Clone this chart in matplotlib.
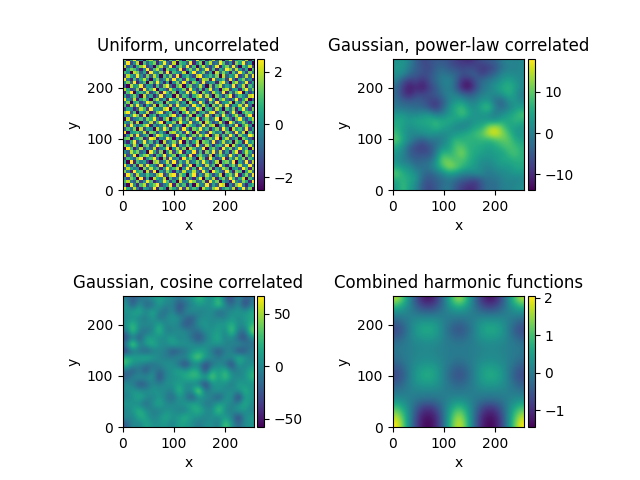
import matplotlib
matplotlib.use('Agg')
import matplotlib.pyplot as plt
import numpy as np

# all grids are listed top row first, uniform values are in half units
uniform_rows = [
    [3,-4,1,5,-2,0,-5,2,4,-1,-3,5,1,-4,2,-2,4,0,-5,3,1,-3,5,-1,2,-4,0,4,-2,3,-5,1,5,-3,0,2,-1,4,-4,1],
    [-1,5,-3,0,4,-5,2,-2,1,3,-4,0,5,-1,-3,4,-5,2,1,-2,5,-4,0,3,-5,1,4,-2,-1,5,2,-3,0,-4,3,1,5,-2,0,-5],
    [4,-2,0,-4,1,3,5,-3,-1,-5,2,4,-2,0,5,-4,1,3,-1,5,-3,2,-5,1,4,-1,-3,0,5,-4,1,3,-2,5,-1,-5,2,0,4,-3],
    [-5,1,3,2,-1,-4,0,5,-3,2,4,-1,-5,3,0,1,-2,5,-4,0,3,-1,4,-2,0,5,-3,2,-4,1,-1,5,3,-2,4,0,-3,1,-5,2],
    [2,0,-5,4,3,-2,1,-4,5,0,-1,3,-3,5,-4,2,0,-1,4,-5,1,5,-2,0,3,-3,1,-5,4,-1,3,0,-4,2,-2,5,1,-3,3,-1],
    [-3,4,1,-1,5,0,-3,3,-2,4,1,-5,2,-1,3,-3,5,-4,0,2,-1,-3,4,5,-2,0,2,-1,3,-5,4,-2,1,0,5,-3,-1,4,-2,5],
    [5,-1,-4,2,-3,1,4,0,-5,1,3,-2,0,4,-2,5,-1,2,-3,4,0,1,-5,-2,4,3,-4,5,-1,0,2,-3,5,-1,-4,1,3,-2,0,-4],
    [0,3,-2,5,-4,-1,2,-5,3,-1,5,0,-4,1,-5,0,3,-2,5,-1,-4,3,1,-3,5,-2,0,1,-4,3,5,-1,-5,2,4,-2,0,5,-3,1],
    [-2,-5,4,0,1,5,-3,1,0,-4,2,-3,3,5,-1,-4,2,4,-5,1,3,-2,0,4,-1,-5,3,-3,2,4,-2,1,-1,5,-3,0,4,-4,2,-1],
    [4,1,-3,-2,3,-4,5,-1,2,5,-5,1,-1,-3,4,1,-2,0,3,-4,5,0,-3,2,-4,1,5,-2,0,-5,3,4,-3,0,1,-4,2,5,-1,3],
    [-4,2,5,-5,0,2,-1,4,-3,0,3,-4,5,2,-2,3,-5,1,-1,5,-2,4,-1,-5,3,0,-3,4,1,-2,5,-4,2,-2,3,5,-5,1,-3,0],
    [1,-3,0,3,-1,-5,4,-2,1,-4,-1,5,-3,0,1,-5,4,-3,2,0,-4,1,3,5,-2,4,-1,-5,3,0,-3,2,5,-4,-1,2,0,-2,4,5],
    [5,0,-2,4,-4,1,3,0,-5,2,4,-2,1,-4,5,2,-1,5,-4,3,1,-5,2,-1,0,-3,5,1,-4,2,4,-1,-3,0,5,-3,1,4,-5,-2],
    [-1,3,-5,1,2,-3,-1,5,3,-3,0,2,-5,3,-1,0,3,-2,1,-5,4,0,-3,5,1,-4,2,-2,5,-3,0,1,4,-5,2,-1,3,-4,0,2],
    [2,-4,4,-1,5,0,-4,1,-2,4,-5,3,0,-2,4,-3,5,0,-1,2,-3,5,1,-2,4,0,-5,3,-1,4,-2,5,-3,1,0,4,-2,5,-1,-5],
    [-3,1,0,-4,-2,4,2,-3,5,0,1,-1,4,5,-5,1,-2,3,4,-4,0,-1,5,3,-5,2,1,-3,4,0,-5,2,-1,3,-4,1,5,0,-3,3],
    [3,5,-2,2,-5,1,-1,4,-4,-2,3,5,-3,0,2,-4,0,-5,2,5,-1,3,-4,0,2,-2,4,5,-3,1,3,-4,0,5,-2,-5,1,3,2,-1],
    [0,-2,1,5,3,-3,5,-5,0,2,-4,0,1,-1,3,5,-3,1,-4,0,4,-5,2,1,-3,5,-1,-4,2,-2,5,0,-3,1,4,-1,-4,2,5,-4],
    [-5,4,-3,-1,0,2,-2,3,1,5,-1,-4,2,4,-5,-1,2,4,-2,3,-3,1,5,-4,0,3,-2,0,5,-5,1,3,-1,-4,2,5,0,-3,1,4],
    [1,-1,3,-4,4,-5,0,-1,4,-3,2,5,-5,1,0,3,-4,5,1,-1,5,-2,0,3,-5,4,1,-3,-1,4,-2,-5,5,2,-3,0,3,-1,-4,2],
    [4,-3,5,0,-2,1,3,5,-4,1,-2,0,3,-3,5,-2,1,-1,-5,4,2,0,-3,-1,5,-2,3,4,-5,0,2,-3,1,-2,5,-4,1,4,0,-5],
    [-2,2,-1,3,-5,4,-3,1,0,-5,4,-1,5,2,-4,0,3,-3,5,0,-4,3,1,5,-1,2,-4,0,3,-3,5,1,-5,4,0,2,-2,5,-3,1],
    [5,-5,0,1,2,-1,4,-4,3,2,-3,1,-2,-5,3,4,-1,2,-3,5,1,-5,4,-2,0,-3,5,2,-1,1,-4,3,0,-3,5,-1,4,-5,2,-2],
    [-4,0,4,-3,5,-2,0,2,-5,-1,5,3,0,1,-3,-4,5,0,2,-4,-1,3,-2,4,1,5,-5,-1,4,-3,2,-2,5,1,-4,3,0,-1,5,3],
    [2,3,-5,-1,1,3,-4,-2,5,4,-4,0,-1,5,2,-5,1,-3,4,0,5,-3,0,1,-4,-1,3,0,5,-5,1,4,-3,-1,2,-5,3,1,-2,-4],
    [-1,-4,1,5,-3,0,5,-1,2,-3,1,-5,4,-2,0,3,-2,5,-5,2,-3,1,4,-5,3,2,-2,5,-3,0,4,-1,2,-5,3,1,-4,5,0,2],
    [3,1,-2,4,0,-5,2,3,-3,0,5,2,-4,3,-1,5,-4,1,-1,3,0,-4,5,-1,-3,4,0,-4,1,2,-2,5,-5,4,0,-2,1,-3,4,-1],
    [-5,5,2,-4,-1,4,-3,1,-2,4,-4,-1,1,5,-5,0,4,-2,3,-5,4,2,-2,0,5,-5,1,3,-1,-4,5,0,3,-3,1,5,-1,2,-5,4],
    [0,-2,4,1,3,-2,0,-5,5,1,-3,3,-5,0,4,-3,2,5,-4,1,-1,5,-3,2,-4,3,-1,5,-2,4,-3,1,-4,2,5,-4,0,4,1,-3],
    [4,-3,-1,5,-5,1,3,4,-1,-4,2,0,5,-2,1,3,-5,0,2,-3,5,-4,1,3,0,-2,4,-5,0,3,1,-2,5,0,-3,2,-5,3,-1,5],
    [-3,2,0,-2,3,5,-4,0,2,5,-1,-5,3,-3,5,-1,1,-4,5,0,3,-1,-5,4,2,-4,5,1,-3,-1,5,-4,2,-1,4,0,3,-4,2,0],
    [1,-5,5,-4,2,-1,1,-3,-5,3,4,-2,0,4,-2,5,-3,2,-1,4,-2,0,3,-1,5,1,-3,0,4,-5,2,3,-1,5,-5,1,-2,5,-3,4],
    [5,0,-3,2,-4,4,-2,5,1,-1,-3,5,-4,1,3,-5,0,4,-3,1,5,-5,2,0,-3,4,-1,2,-5,5,0,-4,1,3,-2,4,-1,0,5,-2],
    [-2,4,1,-1,0,-5,3,-1,4,0,2,-4,1,5,-1,2,4,-5,0,5,-3,2,-4,5,1,-2,3,-4,1,-2,4,2,-5,0,1,-3,5,2,-4,3],
    [3,-1,-4,5,1,2,-5,4,-3,5,-5,1,-2,3,0,-4,1,-2,4,-1,0,4,-1,-3,5,0,-5,5,2,-1,-3,5,0,-4,3,2,-5,1,4,-1],
    [-4,5,2,-3,4,0,-1,2,0,-2,3,5,-3,-1,4,5,-3,3,1,-5,2,5,-3,1,-2,4,1,-3,0,4,-5,1,3,-1,5,-4,0,3,-2,5],
    [0,-3,3,1,-5,5,-4,1,-5,4,1,-1,4,-5,2,-2,0,5,-4,3,-1,-4,1,5,-5,2,-1,4,-4,1,3,-2,5,2,-3,1,4,-5,2,-1],
    [2,4,-1,-2,3,-3,0,5,2,-4,-2,0,5,2,-3,1,-5,4,-1,0,5,3,-2,-1,3,-4,5,0,3,-5,1,-1,-4,5,0,-2,3,1,-4,5],
    [-1,-5,5,0,-4,2,4,-3,1,3,5,-3,-1,1,5,-4,3,-1,2,-4,1,-5,4,0,-1,5,-3,1,-2,5,4,-5,0,-3,3,5,-1,-4,0,2],
    [5,1,-2,4,-1,-4,1,0,-2,5,-4,2,0,-5,3,1,-2,5,-3,4,-1,2,0,-5,4,1,-2,3,5,-3,0,2,-1,4,-4,0,5,-2,3,-5],
]

power_law_rows = [
    [2,3,0,-4,-7,-6,-5,-5,-6,-8,-9,-10,-8,-6,-5,-4,-1,1,0,1],
    [3,3,-1,-4,-6,-7,-4,-3,-5,-6,-7,-6,-7,-9,-8,-6,-2,0,0,1],
    [2,1,-3,-5,-6,-6,-3,-1,-2,-3,-6,-5,-4,-8,-5,-3,1,2,1,1],
    [0,-6,-9,-7,-10,-6,-3,0,1,-3,-10,-11,-6,-2,-1,1,3,5,3,1],
    [-3,-8,-12,-10,-12,-8,-5,-1,0,-4,-11,-13,-7,-2,0,3,5,7,4,1],
    [-3,-8,-11,-7,-7,-6,-5,-2,1,0,-3,-5,-3,0,1,1,3,6,3,-1],
    [-2,-4,-5,-4,-5,-7,-8,-5,0,3,3,0,0,3,3,-2,-4,2,3,1],
    [-1,-2,-2,-3,-3,-6,-9,-4,2,6,8,3,2,6,9,0,-3,0,3,4],
    [3,3,1,1,2,3,-1,0,3,5,9,5,2,3,2,-1,2,4,6,9],
    [5,5,3,5,5,6,7,5,6,4,3,1,3,3,3,3,5,5,7,6],
    [6,4,2,3,4,4,7,5,3,1,0,2,5,6,13,15,11,5,4,3],
    [8,4,1,1,2,3,2,1,2,3,5,6,8,10,15,17,13,9,3,3],
    [10,5,1,-3,-5,-2,-2,0,3,8,6,7,6,7,6,8,10,10,6,4],
    [5,2,-4,-7,-8,-6,-2,2,4,9,10,6,6,5,4,5,7,9,8,6],
    [3,1,-4,-6,-6,-6,-1,8,6,9,12,7,5,4,3,4,4,7,9,6],
    [2,0,-2,-4,-3,-3,2,11,11,8,9,6,4,2,2,3,5,5,6,6],
    [5,3,2,-2,-2,-1,3,8,13,11,7,5,3,1,0,2,3,3,5,5],
    [10,6,4,2,-2,-4,-2,1,4,3,1,0,2,1,-1,0,1,2,3,3],
    [5,7,5,3,-4,-6,-4,-3,-1,-3,-5,-6,-8,-4,-2,-2,0,1,0,1],
    [3,8,4,1,-5,-7,-5,-2,-1,-5,-8,-10,-9,-5,-2,-3,0,0,1,2],
]

cosine_rows = [
    [-5,-25,-10,-5,5,15,5,0,-10,0,5,30,10,0,30,-20,-30,5,-25,-10],
    [10,-30,10,-20,-15,15,-5,0,-30,-15,0,10,5,5,40,0,-20,5,-38,-5],
    [5,15,20,0,20,-5,-15,5,-30,0,5,-5,0,5,-22,-5,5,10,5,20],
    [0,5,0,-10,15,-15,0,10,5,-15,-25,0,5,0,0,-5,10,0,10,15],
    [5,30,0,5,-5,22,-5,5,-5,-28,-15,5,10,0,10,10,25,0,5,25],
    [-10,38,-5,-15,0,30,-5,-5,5,0,-10,-15,5,5,15,-5,42,-10,-15,48],
    [-35,-5,-30,15,10,0,5,15,-5,5,-15,-30,-10,10,20,-5,5,-20,-32,5],
    [-5,60,-5,10,25,5,0,15,10,5,5,-5,5,5,10,0,-5,5,-5,-15],
    [-40,-10,-10,-25,-10,0,-5,-30,-20,-10,5,15,10,-10,-30,-5,0,-35,-25,0],
    [25,15,15,25,15,0,-5,-5,5,0,25,45,10,5,-10,5,0,28,10,-5],
    [32,5,0,-10,-15,0,5,5,-15,-40,-5,-5,-35,-15,5,-10,-40,15,-5,5],
    [-15,-25,-5,-30,5,-20,0,5,20,10,25,20,-38,25,5,30,-5,-5,5,20],
    [-22,0,5,5,10,-35,0,5,5,20,25,25,15,45,5,35,5,0,5,25],
    [5,-5,-30,-20,0,-5,5,5,15,0,0,-10,-45,5,5,5,-10,15,5,5],
    [0,10,5,0,10,5,0,-5,30,0,5,65,-15,5,10,0,5,5,25,5],
    [-5,5,20,5,-5,10,-5,-20,10,-5,-35,5,5,-5,-30,5,10,-50,15,5],
    [10,5,0,-18,5,20,0,0,5,10,20,10,-10,-5,15,10,-5,0,25,0],
    [-5,10,25,5,-5,-5,5,5,-5,-5,15,25,5,0,40,0,-5,15,5,-5],
    [5,-5,22,15,-5,5,20,5,10,25,5,5,-5,5,0,10,0,-42,5,10],
    [-25,5,-5,18,5,5,10,-5,15,10,5,-10,5,5,-10,40,5,-20,5,5],
]

harmonic_rows = [
    [1.7,0.9,-0.2,-1.0,-1.35,-1.0,-0.2,0.9,1.7,0.9,-0.2,-1.0,-1.35,-1.0,-0.2,0.9,1.7],
    [0.8,0.45,-0.1,-0.6,-0.8,-0.6,-0.1,0.45,0.8,0.45,-0.1,-0.6,-0.8,-0.6,-0.1,0.45,0.8],
    [0.1,0.1,0.05,-0.05,-0.1,-0.05,0.0,0.1,0.1,0.1,0.0,-0.05,-0.1,-0.05,0.05,0.1,0.1],
    [-0.4,-0.15,0.2,0.4,0.45,0.4,0.1,-0.15,-0.3,-0.15,0.1,0.4,0.45,0.4,0.2,-0.15,-0.4],
    [-0.7,-0.35,0.25,0.6,0.7,0.55,0.1,-0.35,-0.6,-0.35,0.1,0.55,0.7,0.6,0.25,-0.35,-0.7],
    [-0.4,-0.15,0.2,0.4,0.45,0.4,0.1,-0.15,-0.3,-0.15,0.1,0.4,0.45,0.4,0.2,-0.15,-0.4],
    [-0.1,0.0,0.1,0.15,0.2,0.15,0.05,0.0,-0.05,0.0,0.05,0.15,0.2,0.15,0.1,0.0,-0.1],
    [-0.1,0.0,0.1,0.2,0.2,0.15,0.05,0.0,0.0,0.0,0.05,0.15,0.2,0.2,0.1,0.0,-0.1],
    [-0.25,-0.05,0.15,0.25,0.3,0.25,0.1,-0.05,-0.15,-0.05,0.1,0.25,0.3,0.25,0.15,-0.05,-0.25],
    [-0.55,-0.25,0.2,0.5,0.6,0.5,0.1,-0.25,-0.5,-0.25,0.1,0.5,0.6,0.5,0.2,-0.25,-0.55],
    [-0.7,-0.35,0.25,0.6,0.7,0.55,0.1,-0.35,-0.6,-0.35,0.1,0.55,0.7,0.6,0.25,-0.35,-0.7],
    [-0.4,-0.15,0.2,0.4,0.45,0.4,0.1,-0.15,-0.3,-0.15,0.1,0.4,0.45,0.4,0.2,-0.15,-0.4],
    [-0.1,0.0,0.1,0.1,0.1,0.1,0.05,0.0,-0.05,0.0,0.05,0.1,0.1,0.1,0.1,0.0,-0.1],
    [0.3,0.2,0.0,-0.15,-0.2,-0.15,0.0,0.2,0.3,0.2,0.0,-0.15,-0.2,-0.15,0.0,0.2,0.3],
    [1.0,0.55,-0.1,-0.7,-0.95,-0.7,-0.1,0.55,1.0,0.55,-0.1,-0.7,-0.95,-0.7,-0.1,0.55,1.0],
    [1.6,0.85,-0.2,-1.05,-1.3,-1.05,-0.2,0.85,1.6,0.85,-0.2,-1.05,-1.3,-1.05,-0.2,0.85,1.6],
    [2.05,1.05,-0.3,-1.15,-1.45,-1.15,-0.3,1.05,1.9,1.05,-0.3,-1.15,-1.45,-1.15,-0.3,1.05,2.05],
]

titles = ['Uniform, uncorrelated', 'Gaussian, power-law correlated',
          'Gaussian, cosine correlated', 'Combined harmonic functions']
fields = [np.array(uniform_rows) / 2, power_law_rows, cosine_rows, harmonic_rows]
ranges = [(-2.5, 2.48), (-13.8, 17.9), (-58, 66.8), (-1.45, 2.05)]
interp = ['nearest', 'bicubic', 'bicubic', 'bicubic']
cbar_ticks = [[-2, 0, 2], [-10, 0, 10], [-50, 0, 50], [-1, 0, 1, 2]]

# pixel boxes: left, top of each image, left and width of its colorbar
boxes = [(122.7, 59, 257.3, 7), (392.7, 59, 528.3, 6.2),
         (122.7, 296, 257.3, 7), (392.7, 296, 528.3, 6.2)]
W, H = 640, 480
side = 131.2

fig = plt.figure(figsize=(6.4, 4.8), dpi=100)
for i in range(4):
    left, top, cleft, cwidth = boxes[i]
    ax = fig.add_axes([left / W, 1 - (top + side) / H, side / W, side / H])
    cax = fig.add_axes([cleft / W, 1 - (top + side) / H, cwidth / W, side / H])
    im = ax.imshow(fields[i], extent=(0, 256, 0, 256), cmap='viridis',
                   vmin=ranges[i][0], vmax=ranges[i][1], interpolation=interp[i])
    ax.set_xticks([0, 100, 200])
    ax.set_yticks([0, 100, 200])
    ax.set_xlabel('x')
    ax.set_ylabel('y')
    ax.set_title(titles[i])
    fig.colorbar(im, cax=cax, ticks=cbar_ticks[i])

fig.savefig('out.png', dpi=100)
